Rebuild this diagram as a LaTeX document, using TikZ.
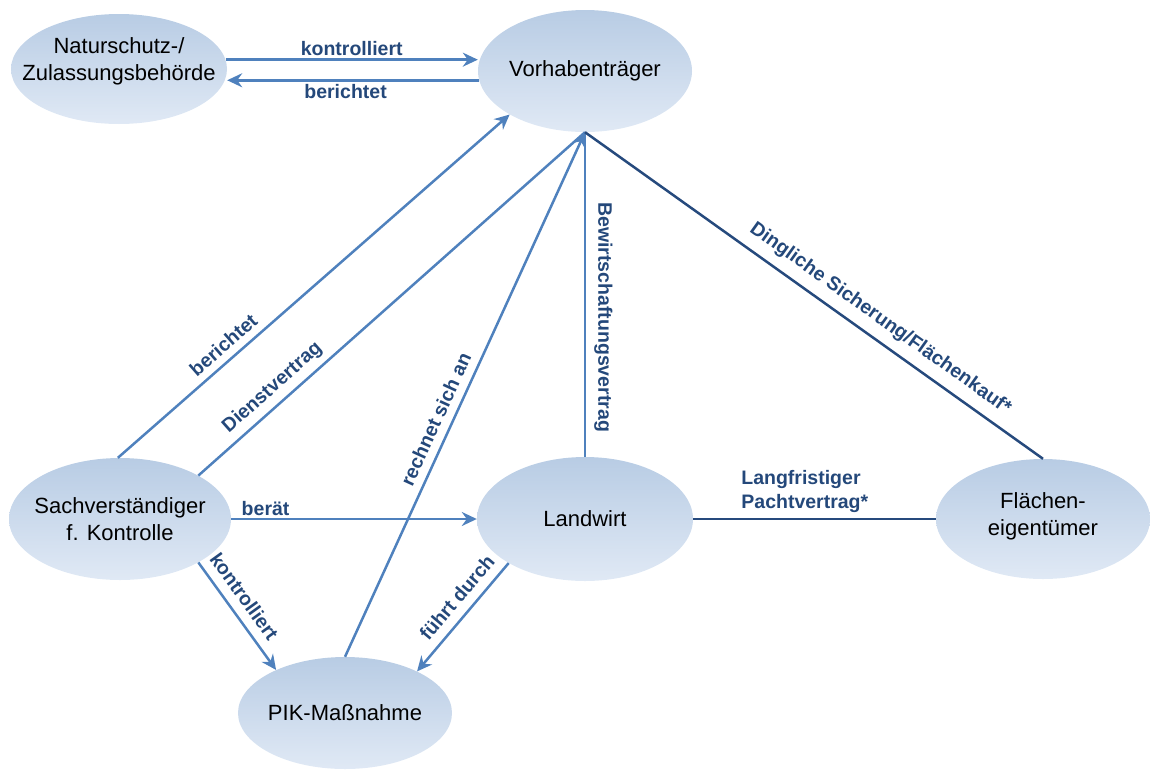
\documentclass[tikz,border=0pt]{standalone}
\usepackage{fontspec}
\setmainfont{Liberation Sans}
\usetikzlibrary{shapes.geometric,arrows.meta,calc}
\definecolor{lineblue}{RGB}{79,129,189}
\definecolor{darkline}{RGB}{38,74,125}
\definecolor{labelblue}{RGB}{36,72,122}
\definecolor{elltop}{RGB}{184,204,228}
\definecolor{ellbot}{RGB}{224,233,245}
\begin{document}
\begin{tikzpicture}[x=1pt,y=1pt,
  ell/.style={ellipse, inner sep=0pt, top color=elltop, bottom color=ellbot, draw=none},
  txt/.style={font=\fontsize{22}{27}\selectfont, align=center, text=black, inner sep=0pt},
  conn/.style={draw=lineblue, line width=2.5pt},
  arr/.style={conn, -{Stealth[length=15pt,width=14pt,inset=5pt]}},
  dark/.style={draw=darkline, line width=2.5pt},
  lbl/.style={font=\fontsize{19.5}{24}\selectfont\bfseries, text=labelblue, inner sep=2pt}]
\useasboundingbox (0,0) rectangle (1150,-769);
% nodes
\node[ell, minimum width=216pt, minimum height=110pt] (nat) at (119,-69) {};
\node[txt] (natT) at (119,-61) {Naturschutz-/\\Zulassungsbehörde};
\node[ell, minimum width=214pt, minimum height=122pt] (vor) at (585,-71) {};
\node[txt] (vorT) at (vor) {Vorhabenträger};
\node[ell, minimum width=222pt, minimum height=122pt] (sach) at (120,-519) {};
\node[txt] (sachT) at (sach) {Sachverständiger\\f. Kontrolle};
\node[ell, minimum width=216pt, minimum height=124pt] (land) at (585,-519) {};
\node[txt] (landT) at (land) {Landwirt};
\node[ell, minimum width=214pt, minimum height=112pt] (pik) at (345,-713) {};
\node[txt] (pikT) at (pik) {PIK-Maßnahme};
\node[ell, minimum width=214pt, minimum height=120pt] (fl) at (1043,-519) {};
\node[txt] (flT) at (1043,-516) {Flächen-\\eigentümer};
% connectors
\draw[arr] (nat.5) -- (nat.5 -| vor.west) node[lbl, midway, above=1pt] (l1) {kontrolliert};
\draw[arr] (vor.185) -- (vor.185 -| nat.east) node[lbl, pos=0.53, below=1pt] (l2) {berichtet};
\draw[arr] (sach.92) -- (vor.210) node[lbl, pos=0.295, sloped, above=5pt] (l3) {berichtet};
\draw[conn] (sach.29) -- (vor.south) node[lbl, pos=0.22, sloped, above=4pt] (l4) {Dienstvertrag};
\draw[conn] (vor.south) -- (land.north) node[lbl, pos=0.57, sloped, above=6pt] (l6) {Bewirtschaftungsvertrag};
\draw[arr] (pik.north) -- (vor.south) node[lbl, pos=0.44, sloped, above=6pt] (l5) {rechnet sich an};
\draw[dark] (vor.south) -- (fl.north) node[lbl, pos=0.62, sloped, above=7pt] (l7) {Dingliche Sicherung/Flächenkauf*};
\draw[dark] (land.east) -- (land.east -| fl.west) node[lbl, pos=0.46, above=3pt, align=left] (l8) {Langfristiger\\Pachtvertrag*};
\draw[arr] (sach.east) -- (land.west) node[lbl, pos=0.14, above] (l9) {berät};
\draw[arr] (sach.-29) -- (pik.148) node[lbl, pos=0.41, sloped, above=7pt] (l10) {kontrolliert};
\draw[arr] (land.210) -- (pik.30) node[lbl, pos=0.42, sloped, above=7pt] (l11) {führt durch};
\end{tikzpicture}
\end{document}
